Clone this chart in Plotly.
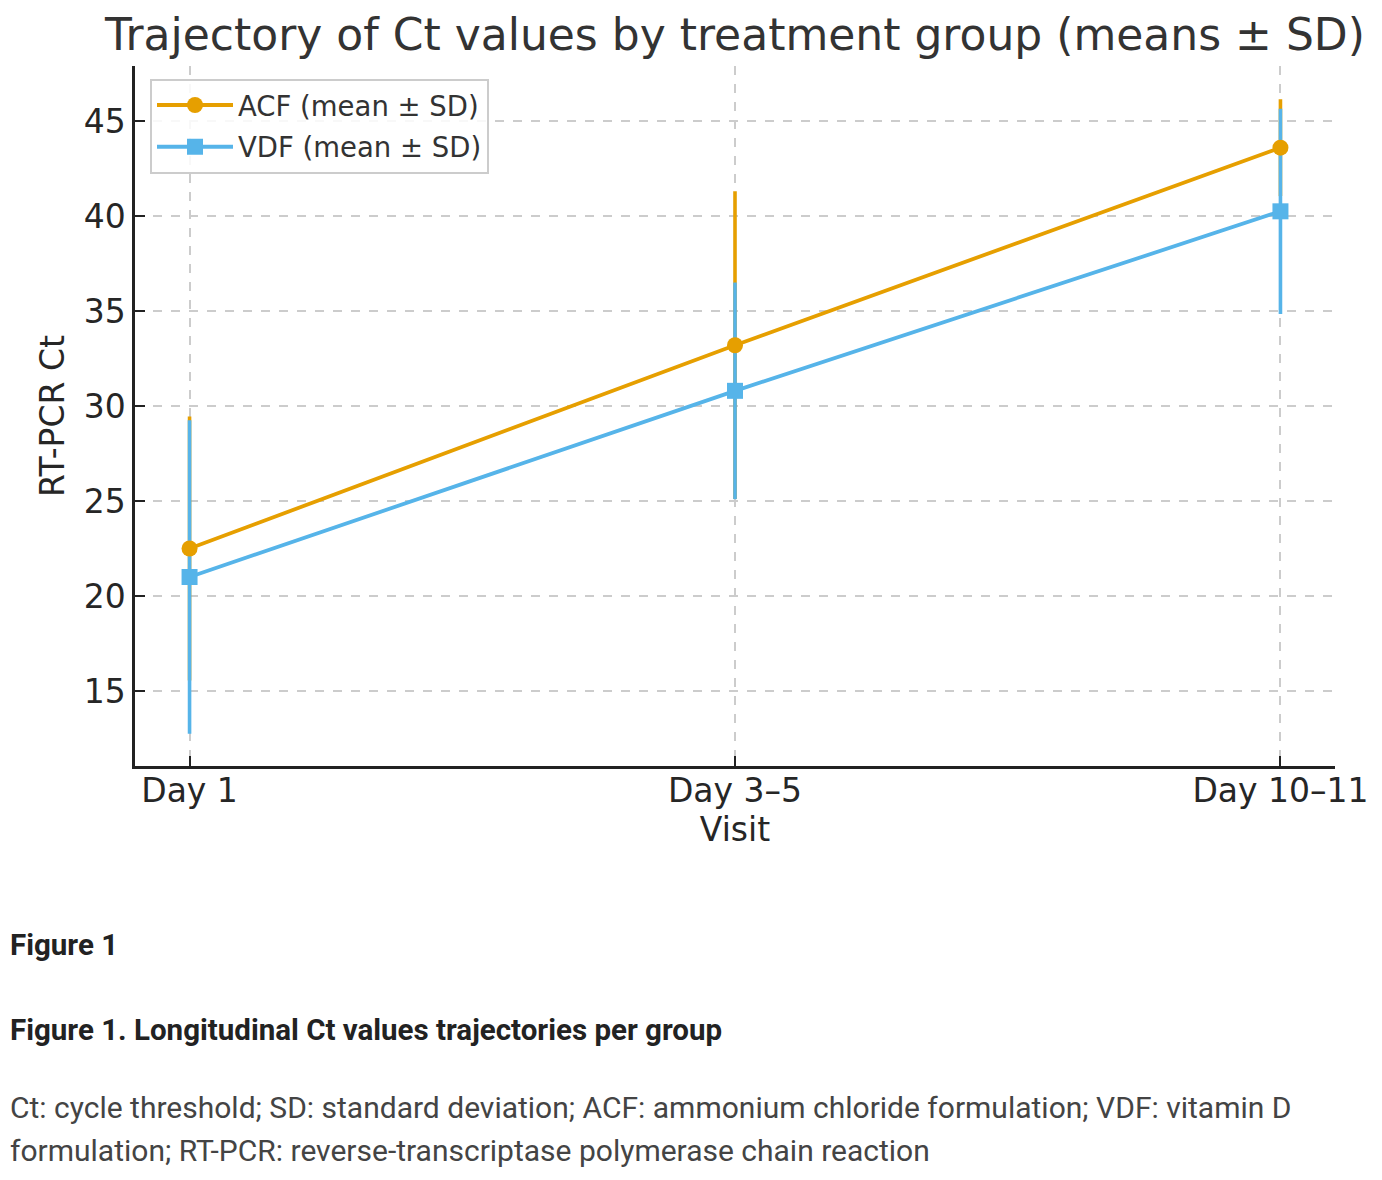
import plotly.graph_objects as go

visits = ["Day 1", "Day 3–5", "Day 10–11"]
acf_mean = [22.5, 33.2, 43.6]
acf_sd = [6.95, 8.1, 2.55]
vdf_mean = [21.0, 30.8, 40.25]
vdf_sd = [8.25, 5.7, 5.4]
ytick_vals = [15, 20, 25, 30, 35, 40, 45]

ACF_COLOR = "#E69F00"
VDF_COLOR = "#56B4E9"
TEXT = "#262626"

xpos = list(range(len(visits)))

fig = go.Figure()

# error bars first (drawn beneath lines/markers, like matplotlib)
for mean, sd, col in [(acf_mean, acf_sd, ACF_COLOR), (vdf_mean, vdf_sd, VDF_COLOR)]:
    fig.add_trace(go.Scatter(
        x=xpos, y=mean, mode="markers",
        marker=dict(size=1, color="rgba(0,0,0,0)"),
        error_y=dict(type="data", array=sd, visible=True, color=col, thickness=3.6, width=0),
        showlegend=False, hoverinfo="skip",
    ))

fig.add_trace(go.Scatter(
    x=xpos, y=acf_mean, mode="lines+markers", name="ACF (mean ± SD)",
    legendgroup="a",
    line=dict(color=ACF_COLOR, width=3.8),
    marker=dict(symbol="circle", size=16, color=ACF_COLOR),
))
fig.add_trace(go.Scatter(
    x=xpos, y=vdf_mean, mode="lines+markers", name="VDF (mean ± SD)",
    legendgroup="b",
    line=dict(color=VDF_COLOR, width=3.8),
    marker=dict(symbol="square", size=16, color=VDF_COLOR),
))

font_main = "DejaVu Sans"

# page has an 8px body margin: figure drawn 8px right/down
fig.update_layout(
    width=1374, height=1172,
    paper_bgcolor="white", plot_bgcolor="white",
    margin=dict(l=127, r=47, t=58, b=414),
    font=dict(family=font_main, color=TEXT, size=33),
    title=dict(
        text="Trajectory of Ct values by treatment group (means ± SD)",
        x=0.5, xref="paper", xanchor="center",
        y=1 - 27 / 1172, yref="container", yanchor="middle",
        font=dict(size=44, color="#333333", family=font_main),
    ),
    showlegend=True,
    legend=dict(
        x=0.0125, y=0.982, xanchor="left", yanchor="top",
        bgcolor="rgba(255,255,255,0.85)", bordercolor="#cccccc", borderwidth=2,
        font=dict(size=27.5, color="#333333", family=font_main),
        itemwidth=76, tracegroupgap=3, traceorder="grouped",
    ),
)

fig.update_xaxes(
    tickmode="array", tickvals=xpos, ticktext=visits,
    range=[-0.1, 2.1],
    showline=True, linecolor="#222222", linewidth=2.5, mirror=False,
    ticks="inside", ticklen=10, tickwidth=2, tickcolor="#222222",
    showgrid=True, gridcolor="#cccccc", griddash="dash", gridwidth=1.5,
    zeroline=False, ticklabelstandoff=-6,
    title=dict(text="Visit", font=dict(size=33), standoff=8),
    tickfont=dict(size=33),
)
fig.update_yaxes(
    range=[11.05, 47.9],
    tickmode="array", tickvals=ytick_vals,
    showline=True, linecolor="#222222", linewidth=2.5, mirror=False,
    ticks="inside", ticklen=10, tickwidth=2, tickcolor="#222222",
    showgrid=True, gridcolor="#cccccc", griddash="dash", gridwidth=1.5,
    zeroline=False,
    title=dict(text="RT-PCR Ct", font=dict(size=33), standoff=10),
    tickfont=dict(size=33),
)

def py(ypix):
    return (766 - ypix) / 700.0

def px(xpix):
    return (xpix - 135) / 1200.0

cap_font = "Roboto"
fig.add_annotation(text="<b>Figure 1</b>", xref="paper", yref="paper",
                   x=px(8), y=py(945), xanchor="left", yanchor="middle",
                   showarrow=False, font=dict(family=cap_font, size=29.5, color="#222222"))
fig.add_annotation(text="<b>Figure 1. Longitudinal Ct values trajectories per group</b>",
                   xref="paper", yref="paper",
                   x=px(8), y=py(1030), xanchor="left", yanchor="middle",
                   showarrow=False, font=dict(family=cap_font, size=29.5, color="#222222"))
fig.add_annotation(text="Ct: cycle threshold; SD: standard deviation; ACF: ammonium chloride formulation; VDF: vitamin D",
                   xref="paper", yref="paper",
                   x=px(8), y=py(1107), xanchor="left", yanchor="middle",
                   showarrow=False, font=dict(family=cap_font, size=30, color="#444444"))
fig.add_annotation(text="formulation; RT-PCR: reverse-transcriptase polymerase chain reaction",
                   xref="paper", yref="paper",
                   x=px(8), y=py(1150), xanchor="left", yanchor="middle",
                   showarrow=False, font=dict(family=cap_font, size=30, color="#444444"))

fig.write_html("out.html")
